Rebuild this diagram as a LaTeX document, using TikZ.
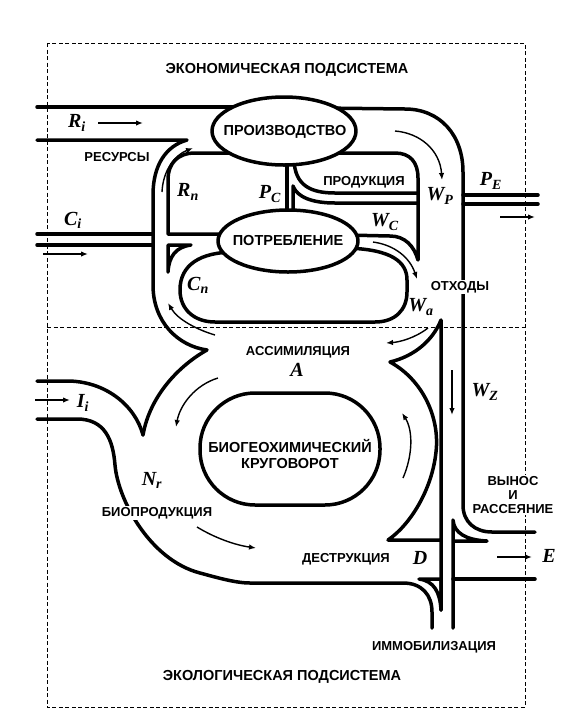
\documentclass[tikz,border=0pt]{standalone}
\usepackage{fontspec}
\setmainfont{Liberation Sans}
\newfontfamily\symfont{Liberation Serif}
\usetikzlibrary{arrows.meta}

\newcommand{\bigfont}{\fontsize{14.5}{16}\selectfont\bfseries}
\newcommand{\lblfont}{\fontsize{13}{14}\selectfont\bfseries}
\newcommand{\flowvar}[2]{#1\textsubscript{#2}}

\begin{document}
\begin{tikzpicture}[x=1pt, y=-1pt,
  wall/.style={line width=3.5pt, line cap=round, line join=round},
  ovalwall/.style={wall, fill=white},
  flowarr/.style={-{Latex[length=7pt,width=5.5pt]}, line width=1.4pt},
  frame/.style={line width=0.9pt, dash pattern=on 4pt off 2.5pt},
  title/.style={font=\bigfont},
  lbl/.style={font=\lblfont, fill=white, inner sep=1pt},
  sym/.style={font=\symfont\fontsize{20}{22}\selectfont\bfseries\itshape, inner sep=0pt}]
  \useasboundingbox (0,0) rectangle (570,724);
  \fill[white] (0,0) rectangle (570,724);

  % subsystems
  \draw[frame] (47,43) rectangle (525,707);
  \draw[frame] (47,327) -- (525,327);
  \node[title] (econ) at (287,70) {ЭКОНОМИЧЕСКАЯ ПОДСИСТЕМА};
  \node[title] (ecol) at (282,677) {ЭКОЛОГИЧЕСКАЯ ПОДСИСТЕМА};

  % economic channels
  \draw[wall] (37,107) -- (250,107);
  \draw[wall] (320,108) -- (405,109) .. controls (440,109) and (463,135) .. (463,172)
    -- (463,505) .. controls (463,522) and (475,532) .. (492,532) -- (535,532);
  \draw[wall] (300,153) -- (395,153) .. controls (410,153) and (418,162) .. (418,178)
    -- (418,260) .. controls (414,246) and (405,236) .. (390,236) -- (345,235);
  \draw[wall] (287,150) -- (287,225);
  \draw[wall] (294,160) .. controls (295,185) and (310,193) .. (335,193) -- (418,193);
  \draw[wall] (293,225) -- (293,186) .. controls (297,197) and (312,203) .. (335,203) -- (418,203);
  \draw[wall] (463,195) -- (538,195);
  \draw[wall] (463,204) -- (538,204);
  \draw[wall] (37,140) -- (187,140) .. controls (166,146) and (153,165) .. (153,195)
    -- (153,285) .. controls (153,322) and (178,346) .. (207,350)
    .. controls (180,365) and (150,395) .. (143,435);
  \draw[wall] (235,153) -- (195,153) .. controls (178,153) and (168,163) .. (168,180)
    -- (168,234) -- (235,234);
  \draw[wall] (37,234) -- (153,234);
  \draw[wall] (37,245) -- (153,245);
  \draw[wall] (168,272) -- (168,245) -- (191,245) .. controls (176,247) and (169,256) .. (168,272);
  \draw[wall] (235,252) .. controls (200,252) and (180,265) .. (180,290)
    .. controls (180,310) and (195,322) .. (215,322) -- (375,322)
    .. controls (395,322) and (407,310) .. (407,292) -- (407,280)
    .. controls (407,262) and (392,249) .. (345,248);

  % ecological channels
  \draw[wall] (37,381) -- (67,381) .. controls (105,381) and (135,405) .. (143,435);
  \draw[wall] (37,419) -- (77,419) .. controls (105,419) and (113,440) .. (115,465)
    .. controls (118,500) and (150,560) .. (200,573)
    .. controls (215,577) and (235,583) .. (250,583) -- (403,583)
    .. controls (422,583) and (432,595) .. (432,612) -- (432,628);
  \draw[wall, rounded corners=55pt] (200,393) rectangle (380,505);
  \draw[wall] (441,610) -- (441,320) .. controls (433,340) and (415,356) .. (390,362)
    .. controls (423,380) and (440,418) .. (436,452)
    .. controls (432,490) and (410,525) .. (388,540) -- (441,540);
  \draw[wall] (419,579) -- (441,579) -- (441,610) .. controls (440,592) and (434,581) .. (419,579);
  \draw[wall] (453,628) -- (453,520) .. controls (454,533) and (466,540) .. (487,541) -- (453,541);
  \draw[wall] (453,579) -- (535,579);

  % units
  \draw[ovalwall] (284,131) ellipse [x radius=72, y radius=34];
  \draw[ovalwall] (288,241) ellipse [x radius=70, y radius=31];
  \node[title] (prod) at (285,132) {ПРОИЗВОДСТВО};
  \node[title] (cons) at (288,241) {ПОТРЕБЛЕНИЕ};
  \node[title, align=center] (cycle) at (290,454) {БИОГЕОХИМИЧЕСКИЙ\\КРУГОВОРОТ};

  % flows
  \draw[flowarr] (98,123) -- (143,123);
  \draw[flowarr] (43,254) -- (88,254);
  \draw[flowarr] (35,400) -- (70,400);
  \draw[flowarr] (500,217) -- (535,217);
  \draw[flowarr] (497,557) -- (532,557);
  \draw[flowarr] (452,370) -- (452,415);
  \draw[flowarr] (162,192) .. controls (163,170) and (175,155) .. (193,148);
  \draw[flowarr] (215,335) .. controls (198,330) and (178,320) .. (168,303);
  \draw[flowarr] (218,378) .. controls (195,385) and (180,405) .. (176,427);
  \draw[flowarr] (197,527) .. controls (215,538) and (235,545) .. (256,548);
  \draw[flowarr] (403,478) .. controls (413,455) and (413,430) .. (402,413);
  \draw[flowarr] (428,328) .. controls (415,338) and (400,342) .. (386,343);
  \draw[flowarr] (373,242) .. controls (395,245) and (410,258) .. (417,279);
  \draw[flowarr] (395,131) .. controls (420,133) and (440,150) .. (442,180);

  % labels
  \node[lbl] (res) at (117,157) {РЕСУРСЫ};
  \node[lbl] (prodn) at (364,182) {ПРОДУКЦИЯ};
  \node[lbl] (waste) at (460,287) {ОТХОДЫ};
  \node[lbl] (assim) at (298,352) {АССИМИЛЯЦИЯ};
  \node[lbl] (bioprod) at (157,513) {БИОПРОДУКЦИЯ};
  \node[lbl] (destr) at (346,559) {ДЕСТРУКЦИЯ};
  \node[lbl, align=center] (export) at (513,495) {ВЫНОС\\И\\РАССЕЯНИЕ};
  \node[lbl] (immob) at (434,647) {ИММОБИЛИЗАЦИЯ};

  \node[sym] (Ri) at (77,123) {\flowvar{R}{i}};
  \node[sym] (Ci) at (73,220) {\flowvar{C}{i}};
  \node[sym] (Rn) at (188,192) {\flowvar{R}{n}};
  \node[sym] (PC) at (270,194) {\flowvar{P}{C}};
  \node[sym] (Cn) at (198,285) {\flowvar{C}{n}};
  \node[sym] (WP) at (440,196) {\flowvar{W}{P}};
  \node[sym] (PE) at (491,181) {\flowvar{P}{E}};
  \node[sym] (WC) at (385,222) {\flowvar{W}{C}};
  \node[sym] (Wa) at (421,307) {\flowvar{W}{a}};
  \node[sym] (A) at (297,370) {A};
  \node[sym] (Ii) at (83,403) {\flowvar{I}{i}};
  \node[sym] (Nr) at (152,480) {\flowvar{N}{r}};
  \node[sym] (WZ) at (485,392) {\flowvar{W}{Z}};
  \node[sym] (D) at (420,558) {D};
  \node[sym] (E) at (549,556) {E};
\end{tikzpicture}
\end{document}
